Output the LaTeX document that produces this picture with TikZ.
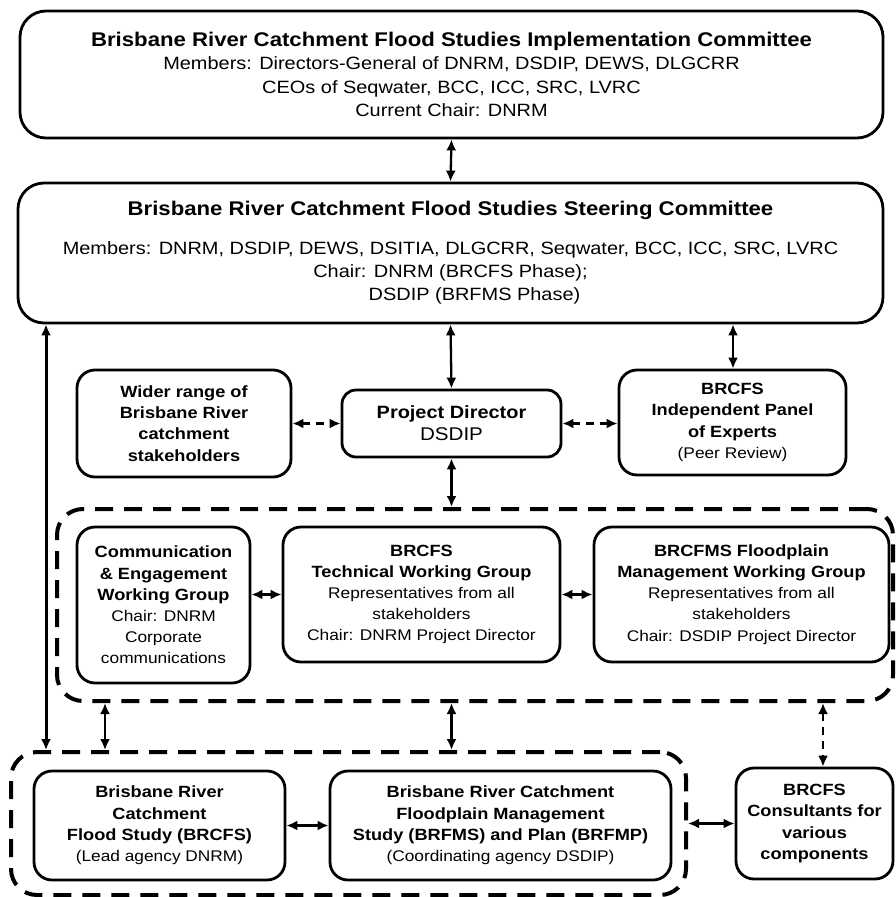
\documentclass[tikz,border=0pt]{standalone}
\usepackage{fontspec}
\setmainfont{Liberation Sans}[FakeStretch=1.12]
\usetikzlibrary{arrows.meta}
\newcommand\titlebf[1]{{\fontsize{19.8}{23.3}\selectfont\bfseries #1}}
\newcommand\innbf[1]{{\fontsize{16.25}{21.2}\selectfont\bfseries #1}}
\begin{document}
\begin{tikzpicture}[x=1pt,y=-1pt,
  box/.style={draw, line width=2.8pt, rounded corners=18pt, inner sep=0pt, align=center},
  bigbox/.style={box, rounded corners=26pt, font=\fontsize{17.8}{23.3}\selectfont},
  innbox/.style={box, font=\fontsize{15.45}{21.2}\selectfont},
  group/.style={draw, line width=4pt, dash pattern=on 18pt off 11pt, rounded corners=26pt},
  arr/.style={line width=2.3pt, {Latex[length=11pt,width=10pt]}-{Latex[length=11pt,width=10pt]}},
  darr/.style={arr, dash pattern=on 8pt off 6pt}]
\useasboundingbox (0,0) rectangle (896,897);

% dashed groups
\node[group, minimum width=836pt, minimum height=192pt] (upper) at (475,605) {};
\node[group, minimum width=675pt, minimum height=143pt] (lower) at (348.5,823.5) {};

% top committees
\node[bigbox, minimum width=863pt, minimum height=127pt] (impl) at (451.5,74.5)
 {\titlebf{Brisbane River Catchment Flood Studies Implementation Committee}\\
  Members: Directors-General of DNRM, DSDIP, DEWS, DLGCRR\\
  CEOs of Seqwater, BCC, ICC, SRC, LVRC\hspace*{50pt}\\
  Current Chair: DNRM};
\node[bigbox, minimum width=865pt, minimum height=140pt] (steer) at (450.5,253)
 {\titlebf{Brisbane River Catchment Flood Studies Steering Committee}\\[15pt]
  Members: DNRM, DSDIP, DEWS, DSITIA, DLGCRR, Seqwater, BCC, ICC, SRC, LVRC\\
  Chair: DNRM (BRCFS Phase);\hspace*{10pt}\\
  \hspace*{48pt}DSDIP (BRFMS Phase)};

% middle row
\node[innbox, minimum width=214pt, minimum height=107pt] (wider) at (184,423.5)
 {\innbf{Wider range of}\\ \innbf{Brisbane River}\\ \innbf{catchment}\\ \innbf{stakeholders}};
\node[box, rounded corners=14pt, font=\fontsize{18.4}{22}\selectfont, minimum width=219pt, minimum height=67pt] (pd) at (451.5,423.5)
 {{\fontsize{17.8}{22}\selectfont\bfseries Project Director}\\ DSDIP};
\node[innbox, minimum width=227pt, minimum height=105pt] (panel) at (732.5,422.5)
 {\innbf{BRCFS}\\ \innbf{Independent Panel}\\ \innbf{of Experts}\\ (Peer Review)};

% working groups
\node[innbox, minimum width=173pt, minimum height=156pt] (comm) at (163.5,605)
 {\innbf{Communication}\\ \innbf{\& Engagement}\\ \innbf{Working Group}\\ Chair: DNRM\\ Corporate\\ communications};
\node[innbox, minimum width=277pt, minimum height=135pt] (tech) at (421.5,594.5)
 {\innbf{BRCFS}\\ \innbf{Technical Working Group}\\ Representatives from all\\ stakeholders\\ Chair: DNRM Project Director};
\node[innbox, minimum width=295pt, minimum height=135pt] (fwg) at (741.5,594.5)
 {\innbf{BRCFMS Floodplain}\\ \innbf{Management Working Group}\\ Representatives from all\\ stakeholders\\ Chair: DSDIP Project Director};

% studies
\node[innbox, minimum width=251pt, minimum height=109pt] (flood) at (159.5,825.5)
 {\innbf{Brisbane River}\\ \innbf{Catchment}\\ \innbf{Flood Study (BRCFS)}\\ (Lead agency DNRM)};
\node[innbox, minimum width=341pt, minimum height=109pt] (brfms) at (500.5,825.5)
 {\innbf{Brisbane River Catchment}\\ \innbf{Floodplain Management}\\ \innbf{Study (BRFMS) and Plan (BRFMP)}\\ (Coordinating agency DSDIP)};
\node[innbox, minimum width=157pt, minimum height=111pt] (cons) at (814.5,823.5)
 {\innbf{BRCFS}\\ \innbf{Consultants for}\\ \innbf{various}\\ \innbf{components}};

% helper coordinates for connector columns
\coordinate (cl) at (46,0);
\coordinate (cg) at (105,0);
\coordinate (cm) at (451.5,0);
\coordinate (cp) at (733,0);
\coordinate (cc) at (823,0);

% connectors
\draw[arr] (impl.south) -- (steer.north);
\draw[arr] (steer.south) -- (pd.north);
\draw[arr] (cp |- steer.south) -- (cp |- panel.north);
\draw[darr] (wider.east) -- (pd.west);
\draw[darr] (pd.east) -- (pd.east -| panel.west);
\draw[arr] (pd.south) -- (cm |- upper.north);
\draw[arr] (comm.east |- tech.west) -- (tech.west);
\draw[arr] (tech.east) -- (fwg.west);
\draw[arr, line width=3pt] (cl |- steer.south) -- (cl |- lower.north);
\draw[arr] (cg |- upper.south) -- (cg |- lower.north);
\draw[arr] (cm |- upper.south) -- (cm |- lower.north);
\draw[darr] (cc |- upper.south) -- (cc |- cons.north);
\draw[arr] (flood.east) -- (brfms.west);
\draw[arr] (lower.east) -- (lower.east -| cons.west);
\end{tikzpicture}
\end{document}
